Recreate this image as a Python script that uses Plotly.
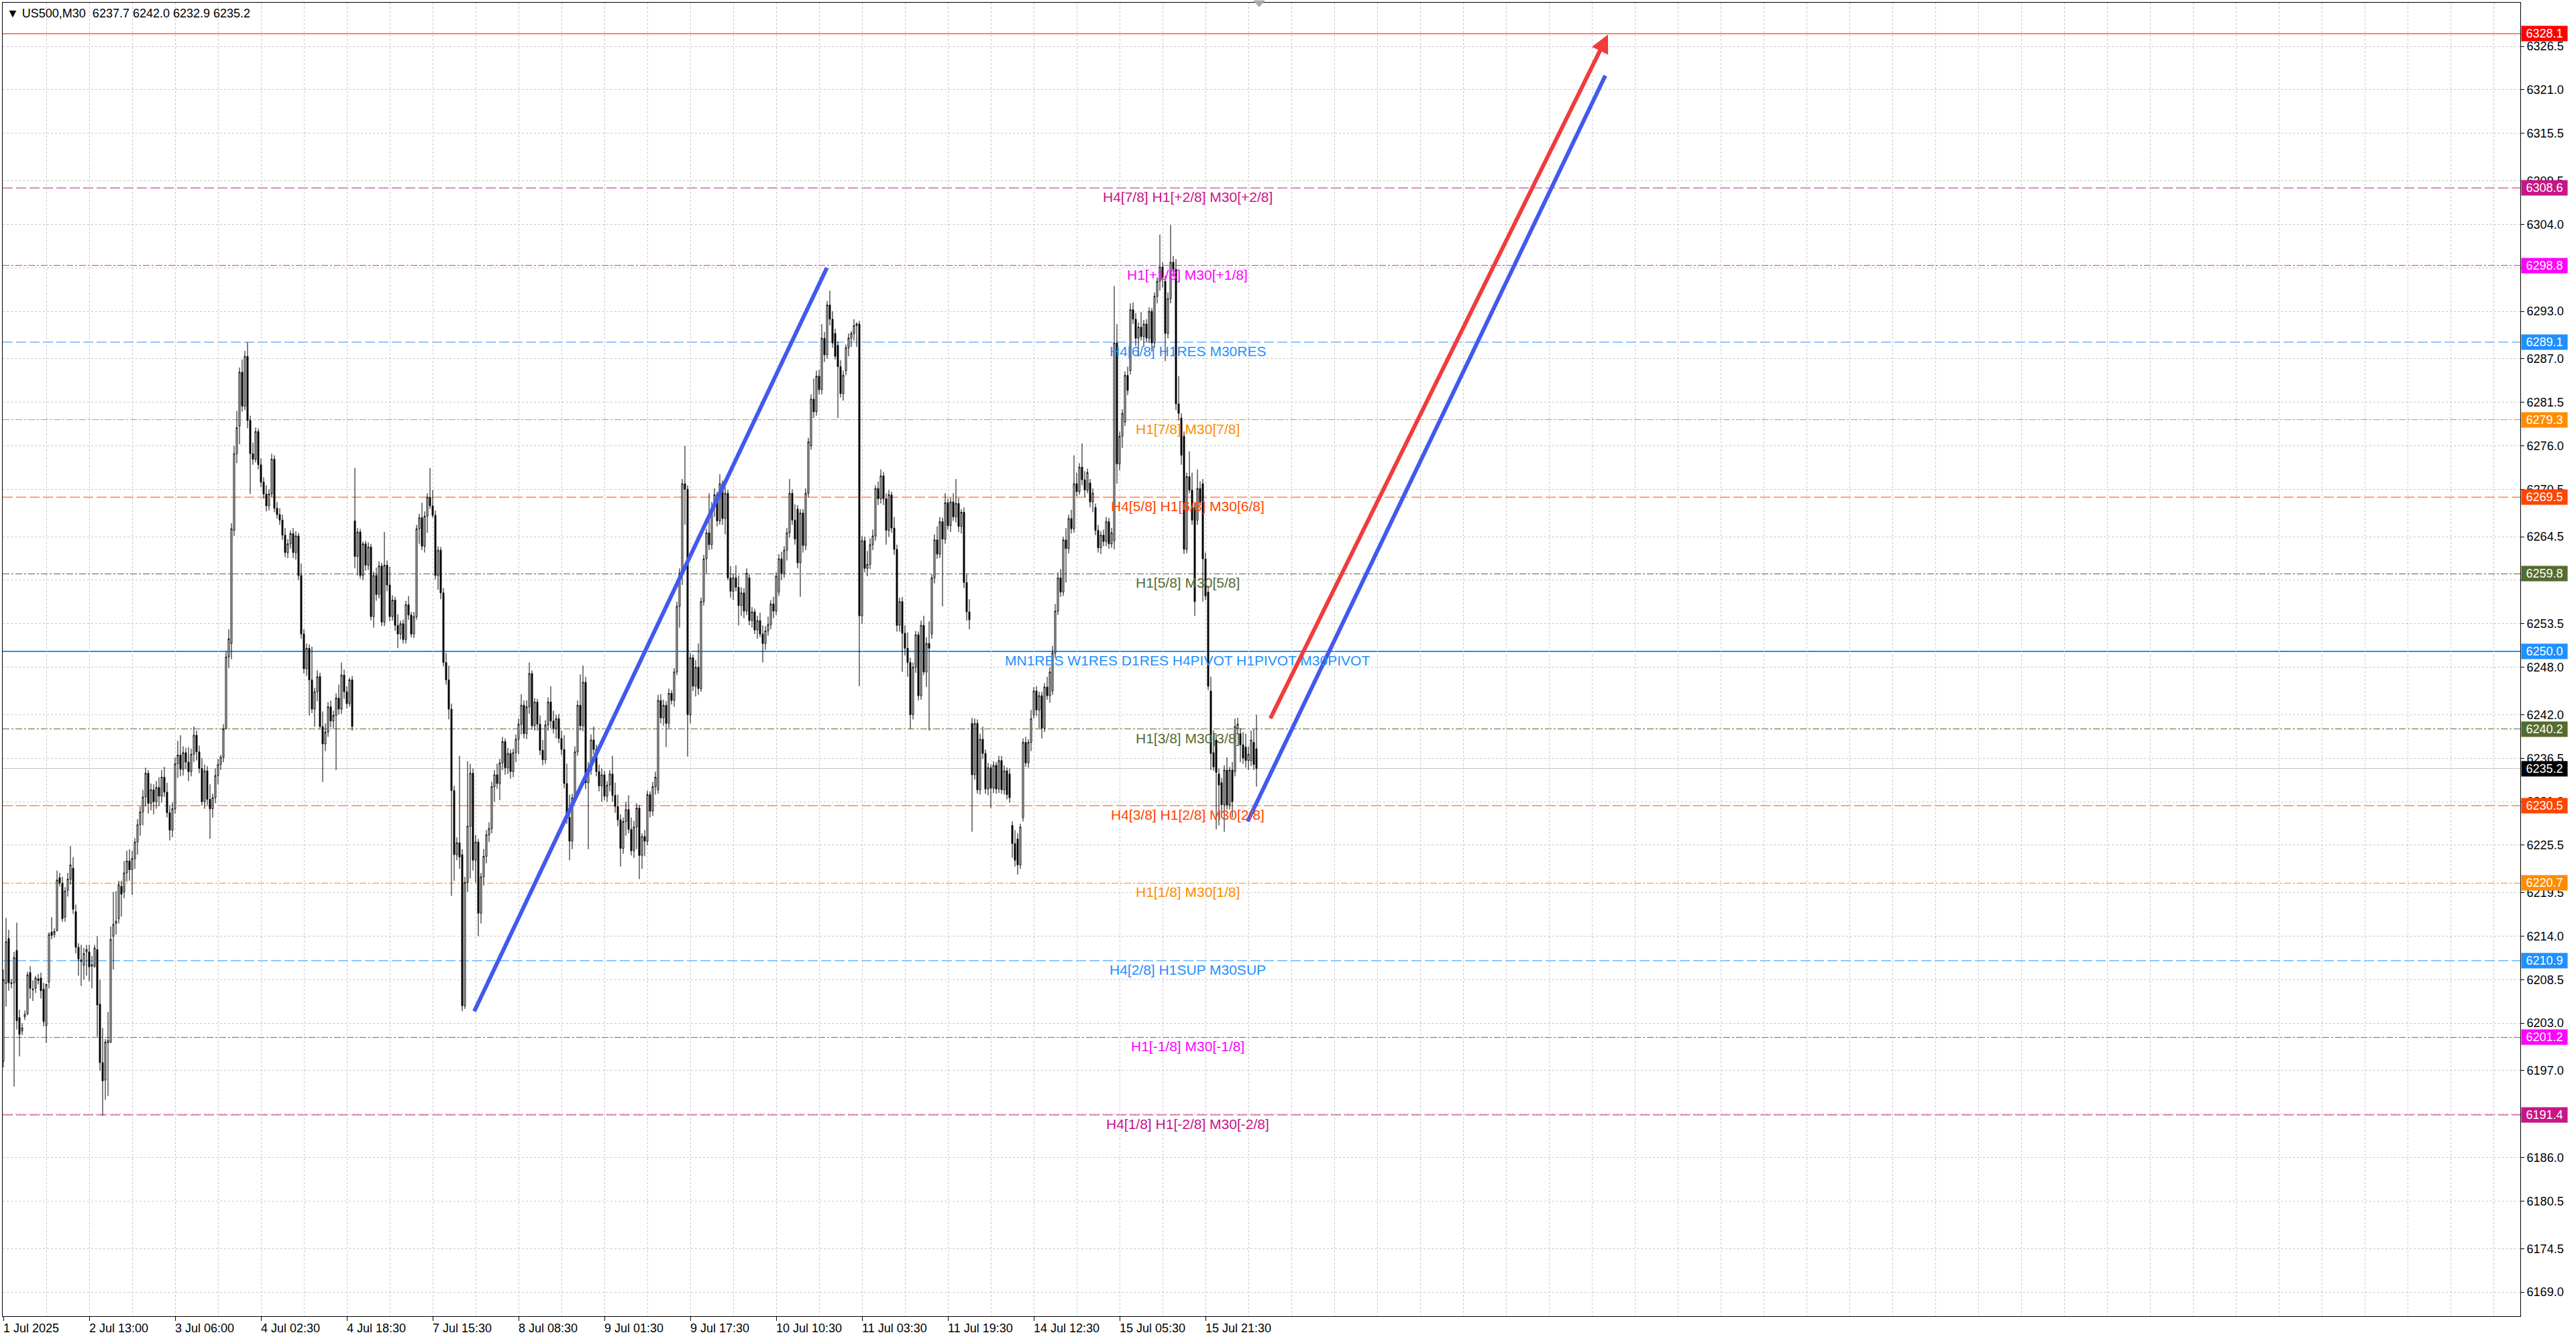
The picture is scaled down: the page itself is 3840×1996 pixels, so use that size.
import plotly.graph_objects as go

# ---------------- DATA ----------------
opens = [
    6198.2, 6208.0, 6213.7, 6208.1, 6208.1, 6212.2, 6203.7, 6202.0, 6203.8, 6204.2,
    6209.4, 6207.3, 6207.4, 6208.6, 6208.7, 6207.3, 6202.7, 6208.2, 6214.5, 6214.2,
    6214.7, 6221.4, 6220.7, 6216.4, 6219.8, 6221.2, 6222.6, 6217.1, 6212.6, 6211.0,
    6210.3, 6212.0, 6212.0, 6210.2, 6210.2, 6212.3, 6205.4, 6198.0, 6195.8, 6200.5,
    6200.6, 6214.0, 6215.6, 6216.2, 6220.3, 6219.6, 6222.0, 6223.5, 6222.4, 6223.8,
    6225.9, 6228.1, 6229.7, 6231.6, 6234.6, 6230.8, 6232.5, 6231.0, 6232.8, 6231.7,
    6234.1, 6232.2, 6229.6, 6227.4, 6230.1, 6235.8, 6236.9, 6235.1, 6237.2, 6236.0,
    6234.8, 6237.0, 6239.4, 6237.3, 6235.2, 6231.0, 6234.9, 6231.3, 6230.1, 6231.5,
    6234.3, 6235.7, 6236.6, 6240.2, 6249.3, 6251.0, 6265.3, 6275.0, 6278.5, 6285.3,
    6281.0, 6287.3, 6279.2, 6275.0, 6274.3, 6277.8, 6273.6, 6271.4, 6269.9, 6268.4,
    6269.9, 6274.3, 6268.1, 6267.3, 6266.6, 6264.7, 6262.5, 6263.6, 6264.9, 6262.5,
    6264.6, 6259.6, 6252.2, 6247.8, 6250.4, 6246.4, 6242.7, 6244.9, 6246.8, 6240.5,
    6238.3, 6239.8, 6243.0, 6241.2, 6241.9, 6244.1, 6242.7, 6247.0, 6244.9, 6243.4,
    6246.4, 6266.5, 6262.0, 6265.1, 6259.6, 6263.6, 6260.9, 6263.2, 6254.4, 6259.6,
    6257.2, 6260.8, 6253.7, 6260.9, 6258.4, 6254.4, 6256.5, 6253.3, 6252.2, 6253.5,
    6251.5, 6255.9, 6254.6, 6252.2, 6254.4, 6265.5, 6266.9, 6263.3, 6267.1, 6269.5,
    6268.4, 6267.2, 6259.6, 6262.8, 6257.4, 6248.6, 6246.4, 6242.7, 6232.4, 6224.3,
    6225.8, 6224.3, 6205.2, 6220.8, 6227.9, 6234.6, 6223.6, 6225.9, 6216.9, 6221.5,
    6224.1, 6226.8, 6227.6, 6232.9, 6234.4, 6233.3, 6235.9, 6238.6, 6235.3, 6237.1,
    6234.8, 6237.2, 6238.9, 6240.8, 6243.2, 6239.6, 6243.0, 6247.2, 6240.6, 6243.6,
    6240.8, 6237.5, 6236.3, 6240.7, 6243.6, 6241.2, 6240.3, 6241.5, 6239.0, 6237.6,
    6233.3, 6229.0, 6226.0, 6231.5, 6237.3, 6243.2, 6240.6, 6246.1, 6233.4, 6235.0,
    6238.8, 6237.6, 6234.8, 6233.0, 6234.4, 6231.7, 6233.1, 6234.5, 6231.8, 6230.4,
    6228.7, 6225.1, 6228.5, 6230.0, 6227.5, 6224.8, 6227.8, 6230.2, 6224.2, 6226.6,
    6226.0, 6231.9, 6229.8, 6232.9, 6232.5, 6243.8, 6241.6, 6243.2, 6240.9, 6244.7,
    6243.8, 6247.4, 6255.7, 6259.9, 6271.2, 6270.5, 6242.0, 6249.2, 6245.6, 6248.0,
    6245.3, 6256.3, 6261.7, 6265.0, 6263.5, 6268.2, 6269.8, 6266.5, 6271.2, 6266.8,
    6270.0, 6259.3, 6257.6, 6259.3, 6258.1, 6255.8, 6257.4, 6255.1, 6259.3, 6253.9,
    6255.0, 6252.7, 6253.9, 6252.2, 6251.0, 6252.6, 6253.4, 6256.0, 6255.1, 6257.5,
    6261.7, 6259.9, 6262.8, 6265.0, 6270.0, 6266.6, 6268.0, 6261.2, 6267.5, 6263.4,
    6270.0, 6276.0, 6281.9, 6280.3, 6284.8, 6283.1, 6289.6, 6287.5, 6293.8, 6292.0,
    6290.2, 6288.7, 6286.0, 6282.6, 6285.5, 6288.4, 6289.6, 6290.2, 6291.2, 6291.4,
    6254.5, 6264.0, 6260.5, 6261.0, 6263.5, 6264.6, 6270.6, 6269.3, 6272.2, 6269.3,
    6265.3, 6269.8, 6265.6, 6262.9, 6253.3, 6256.3, 6252.3, 6250.4, 6248.6, 6242.0,
    6248.0, 6252.1, 6244.4, 6253.3, 6247.4, 6251.0, 6252.2, 6259.3, 6264.1, 6262.3,
    6266.4, 6264.2, 6268.8, 6265.9, 6268.9, 6267.0, 6268.7, 6265.8, 6267.6, 6258.7,
    6255.0, 6240.9, 6234.4, 6240.9, 6232.5, 6238.9, 6237.1, 6232.6, 6235.3, 6232.7,
    6235.6, 6232.6, 6236.2, 6232.5, 6234.9, 6234.5, 6228.0, 6225.7, 6226.3, 6223.0,
    6229.0, 6238.5, 6235.9, 6238.5, 6242.0, 6245.0, 6242.6, 6244.4, 6240.3, 6245.5,
    6244.4, 6245.0, 6249.8, 6255.1, 6259.3, 6257.5, 6264.1, 6263.0, 6266.8, 6265.5,
    6271.2, 6270.2, 6273.3, 6271.7, 6270.4, 6271.3, 6268.9, 6268.2, 6265.3, 6263.1,
    6264.7, 6263.9, 6266.4, 6263.6, 6264.0, 6289.0, 6273.7, 6277.2, 6279.0, 6284.9,
    6285.5, 6293.2, 6292.0, 6289.6, 6291.0, 6289.8, 6291.4, 6289.6, 6293.0, 6289.0,
    6294.9, 6296.8, 6298.6, 6296.8, 6290.2, 6294.6, 6299.2, 6298.3, 6281.3, 6279.5,
    6277.2, 6262.9, 6272.1, 6270.4, 6268.2, 6266.6, 6270.6, 6271.2, 6261.7, 6257.5,
    6245.0, 6237.2, 6238.8, 6234.5, 6233.4, 6230.6, 6235.0, 6230.6, 6235.0, 6234.8,
    6240.2, 6239.6, 6238.2, 6237.9, 6236.2, 6236.2, 6238.5, 6237.7,
]
highs = [
    6209.8, 6216.3, 6214.8, 6208.6, 6212.0, 6215.7, 6204.7, 6203.0, 6204.6, 6209.5,
    6210.2, 6208.4, 6209.0, 6209.2, 6209.4, 6208.1, 6208.0, 6214.5, 6216.4, 6215.0,
    6222.3, 6222.0, 6221.5, 6220.2, 6222.0, 6225.4, 6224.0, 6218.0, 6213.1, 6212.9,
    6212.5, 6212.9, 6212.9, 6211.5, 6212.9, 6214.0, 6208.5, 6202.4, 6201.0, 6204.4,
    6215.2, 6219.6, 6219.7, 6221.0, 6221.0, 6223.5, 6224.8, 6225.0, 6224.8, 6226.4,
    6228.8, 6230.4, 6232.5, 6235.3, 6235.0, 6233.3, 6233.2, 6233.6, 6234.1, 6235.0,
    6235.4, 6233.4, 6230.4, 6230.9, 6236.6, 6238.7, 6239.4, 6238.0, 6237.8, 6237.9,
    6237.7, 6240.5, 6240.0, 6238.1, 6236.5, 6235.7, 6235.5, 6233.2, 6232.0, 6235.2,
    6236.4, 6236.9, 6240.8, 6250.0, 6252.8, 6266.2, 6276.0, 6280.4, 6285.9, 6286.9,
    6288.0, 6289.1, 6279.8, 6276.4, 6278.3, 6278.2, 6274.4, 6272.0, 6271.0, 6270.5,
    6275.0, 6274.8, 6268.9, 6268.1, 6267.3, 6265.6, 6264.2, 6265.3, 6265.6, 6265.2,
    6265.0, 6261.1, 6252.8, 6251.0, 6250.9, 6250.6, 6245.4, 6247.6, 6247.3, 6242.4,
    6240.9, 6243.6, 6243.8, 6242.5, 6244.7, 6245.8, 6248.6, 6247.7, 6245.6, 6246.7,
    6246.9, 6273.2, 6265.6, 6265.5, 6263.9, 6264.0, 6263.8, 6263.6, 6260.1, 6260.6,
    6261.4, 6261.2, 6265.1, 6261.5, 6260.7, 6257.1, 6256.9, 6254.7, 6253.9, 6254.0,
    6256.4, 6257.0, 6255.0, 6255.0, 6266.0, 6267.4, 6268.8, 6267.7, 6270.0, 6273.2,
    6270.4, 6267.8, 6263.3, 6263.2, 6258.0, 6249.8, 6248.2, 6243.4, 6233.0, 6226.5,
    6236.8, 6225.0, 6221.5, 6236.1, 6235.8, 6235.2, 6226.8, 6226.3, 6222.0, 6225.0,
    6227.4, 6228.4, 6233.5, 6235.0, 6235.8, 6236.4, 6239.2, 6239.0, 6237.8, 6237.6,
    6237.7, 6239.5, 6241.5, 6244.6, 6243.8, 6243.8, 6248.6, 6247.6, 6244.1, 6244.0,
    6241.9, 6238.8, 6241.3, 6244.2, 6245.6, 6242.5, 6242.0, 6242.1, 6240.0, 6239.4,
    6235.8, 6231.9, 6232.0, 6238.0, 6243.8, 6247.1, 6248.2, 6246.8, 6236.0, 6239.5,
    6240.5, 6238.2, 6235.7, 6235.2, 6234.9, 6233.6, 6235.0, 6236.8, 6233.4, 6231.9,
    6229.4, 6229.0, 6231.0, 6231.8, 6229.0, 6228.6, 6230.8, 6230.6, 6227.0, 6227.4,
    6232.4, 6232.3, 6233.5, 6234.8, 6244.5, 6244.6, 6243.9, 6243.7, 6245.3, 6245.1,
    6247.9, 6256.3, 6260.5, 6271.8, 6276.0, 6271.0, 6249.8, 6249.6, 6248.9, 6251.0,
    6256.8, 6262.2, 6265.5, 6270.0, 6268.9, 6270.6, 6270.2, 6272.4, 6271.6, 6270.8,
    6270.4, 6260.8, 6259.8, 6260.9, 6259.6, 6258.1, 6258.0, 6260.5, 6259.8, 6255.6,
    6255.4, 6254.5, 6254.9, 6253.3, 6253.2, 6254.4, 6256.5, 6256.9, 6260.0, 6262.3,
    6262.6, 6263.3, 6265.6, 6271.8, 6270.5, 6268.6, 6268.5, 6268.0, 6268.0, 6270.6,
    6277.0, 6282.5, 6284.5, 6285.5, 6285.6, 6291.4, 6290.4, 6294.3, 6295.6, 6293.0,
    6290.8, 6289.2, 6286.8, 6285.5, 6288.8, 6290.2, 6290.5, 6292.0, 6291.6, 6291.8,
    6264.6, 6264.5, 6262.7, 6264.3, 6265.4, 6271.0, 6271.5, 6273.0, 6272.7, 6270.0,
    6270.4, 6270.2, 6267.0, 6263.5, 6256.8, 6256.9, 6253.3, 6252.4, 6249.2, 6248.6,
    6252.6, 6252.5, 6253.9, 6254.5, 6251.8, 6253.8, 6259.8, 6264.8, 6265.8, 6267.0,
    6266.9, 6270.0, 6269.3, 6269.4, 6270.0, 6271.8, 6269.4, 6268.0, 6268.2, 6259.9,
    6256.6, 6241.6, 6241.5, 6241.4, 6239.6, 6240.5, 6237.6, 6235.9, 6235.7, 6236.1,
    6236.0, 6236.8, 6236.8, 6235.6, 6235.3, 6235.2, 6228.5, 6227.4, 6227.0, 6228.2,
    6239.0, 6239.2, 6238.9, 6242.6, 6245.5, 6245.6, 6244.9, 6244.9, 6246.0, 6246.8,
    6248.0, 6250.7, 6256.0, 6260.0, 6260.4, 6264.5, 6265.6, 6267.3, 6267.9, 6274.8,
    6272.6, 6273.8, 6276.3, 6272.8, 6273.1, 6271.8, 6270.6, 6268.7, 6266.0, 6265.2,
    6265.4, 6267.0, 6266.9, 6265.6, 6296.2, 6291.4, 6277.8, 6280.6, 6285.4, 6286.0,
    6294.0, 6294.1, 6292.8, 6291.6, 6292.9, 6291.9, 6292.0, 6293.5, 6293.4, 6295.4,
    6297.3, 6302.7, 6299.2, 6297.5, 6295.4, 6303.9, 6300.0, 6299.6, 6284.8, 6280.1,
    6277.8, 6272.6, 6275.3, 6272.6, 6268.8, 6273.0, 6271.5, 6271.8, 6262.5, 6258.3,
    6246.8, 6240.0, 6239.5, 6235.2, 6234.0, 6235.6, 6236.6, 6235.4, 6236.0, 6241.5,
    6241.6, 6240.3, 6239.8, 6239.6, 6238.0, 6240.0, 6240.2, 6242.0,
]
lows = [
    6197.4, 6205.1, 6207.1, 6207.4, 6195.0, 6202.2, 6198.8, 6201.5, 6203.4, 6204.0,
    6206.1, 6205.8, 6206.8, 6207.9, 6206.1, 6202.6, 6200.5, 6207.4, 6213.6, 6213.8,
    6214.6, 6220.3, 6215.8, 6215.8, 6219.0, 6220.5, 6216.8, 6211.8, 6209.0, 6207.7,
    6208.5, 6209.0, 6208.3, 6207.4, 6210.0, 6201.3, 6197.0, 6191.3, 6193.3, 6193.8,
    6200.5, 6209.8, 6214.2, 6215.6, 6216.5, 6218.8, 6220.9, 6221.0, 6219.2, 6222.5,
    6224.3, 6226.7, 6228.0, 6230.4, 6229.5, 6229.9, 6229.4, 6230.1, 6230.5, 6230.9,
    6231.6, 6229.0, 6226.1, 6226.5, 6229.5, 6234.0, 6234.2, 6234.3, 6235.1, 6233.6,
    6234.2, 6236.0, 6236.2, 6234.6, 6230.5, 6230.1, 6230.6, 6226.3, 6229.0, 6230.8,
    6233.2, 6235.0, 6236.0, 6240.2, 6247.9, 6249.0, 6264.6, 6273.8, 6276.2, 6280.3,
    6280.5, 6278.2, 6269.9, 6273.6, 6273.9, 6273.0, 6270.8, 6269.3, 6267.7, 6267.8,
    6269.5, 6267.6, 6266.8, 6266.0, 6264.1, 6261.9, 6261.8, 6263.0, 6261.8, 6261.6,
    6259.0, 6251.6, 6247.2, 6246.9, 6241.9, 6242.2, 6240.5, 6243.7, 6240.1, 6233.5,
    6237.4, 6239.2, 6240.4, 6240.2, 6235.0, 6242.0, 6242.1, 6244.0, 6242.8, 6243.0,
    6240.0, 6260.5, 6259.6, 6259.2, 6259.0, 6260.2, 6260.3, 6253.9, 6253.0, 6256.4,
    6256.7, 6253.2, 6253.2, 6257.6, 6253.8, 6253.9, 6252.6, 6250.4, 6251.5, 6251.0,
    6251.0, 6254.0, 6251.8, 6251.7, 6254.0, 6263.6, 6262.8, 6262.5, 6265.0, 6268.0,
    6266.9, 6259.1, 6257.8, 6256.6, 6248.1, 6245.8, 6241.4, 6219.1, 6221.0, 6223.6,
    6222.5, 6204.5, 6204.8, 6219.6, 6221.3, 6222.3, 6220.8, 6214.0, 6215.6, 6220.4,
    6223.2, 6225.9, 6227.0, 6231.0, 6232.6, 6231.2, 6235.0, 6234.4, 6234.5, 6233.9,
    6234.1, 6236.0, 6237.0, 6239.5, 6239.0, 6238.9, 6242.1, 6240.1, 6240.0, 6240.0,
    6236.9, 6235.6, 6235.8, 6240.0, 6240.3, 6239.6, 6239.0, 6238.4, 6236.9, 6232.7,
    6228.2, 6223.6, 6225.0, 6230.9, 6236.8, 6240.0, 6239.9, 6232.6, 6225.0, 6234.4,
    6237.0, 6234.2, 6232.3, 6231.0, 6231.2, 6231.0, 6232.3, 6231.0, 6229.6, 6227.9,
    6222.8, 6224.4, 6226.7, 6227.0, 6224.2, 6223.9, 6225.0, 6221.2, 6222.5, 6224.1,
    6225.5, 6229.0, 6229.2, 6231.9, 6232.0, 6240.9, 6240.6, 6237.9, 6240.3, 6243.3,
    6243.0, 6247.0, 6253.0, 6258.4, 6266.0, 6236.7, 6240.9, 6245.0, 6244.3, 6244.5,
    6244.9, 6255.8, 6259.9, 6262.8, 6262.9, 6267.0, 6265.8, 6266.0, 6266.0, 6264.8,
    6259.0, 6256.8, 6256.5, 6257.6, 6253.3, 6254.5, 6254.2, 6254.6, 6253.3, 6253.0,
    6252.2, 6251.6, 6251.8, 6248.6, 6250.2, 6252.0, 6252.8, 6254.2, 6254.6, 6257.0,
    6259.0, 6259.3, 6261.5, 6264.4, 6266.0, 6263.5, 6260.5, 6256.9, 6262.5, 6262.8,
    6269.5, 6275.5, 6279.5, 6279.8, 6282.5, 6282.5, 6286.6, 6287.0, 6291.2, 6288.4,
    6286.9, 6279.5, 6282.1, 6281.7, 6284.9, 6287.3, 6288.5, 6289.3, 6288.5, 6245.6,
    6253.5, 6260.0, 6259.5, 6260.4, 6262.8, 6264.0, 6268.5, 6268.7, 6268.5, 6263.5,
    6264.5, 6265.0, 6262.2, 6252.5, 6252.5, 6247.4, 6249.5, 6246.8, 6240.2, 6241.4,
    6247.3, 6243.8, 6243.9, 6247.0, 6245.5, 6240.0, 6251.6, 6258.6, 6261.7, 6261.8,
    6255.7, 6263.6, 6265.4, 6265.1, 6266.5, 6266.3, 6265.1, 6264.9, 6258.0, 6253.9,
    6252.8, 6227.2, 6233.8, 6232.0, 6231.9, 6236.4, 6232.0, 6231.8, 6230.2, 6232.1,
    6232.0, 6232.1, 6232.0, 6231.9, 6231.3, 6230.9, 6223.9, 6222.8, 6221.8, 6222.5,
    6228.5, 6235.4, 6235.3, 6237.4, 6241.5, 6241.8, 6240.3, 6239.0, 6239.8, 6243.9,
    6243.5, 6244.5, 6249.2, 6254.6, 6256.9, 6257.0, 6258.7, 6262.4, 6264.9, 6265.0,
    6269.6, 6269.8, 6271.0, 6269.5, 6270.0, 6268.2, 6267.6, 6264.7, 6262.5, 6262.3,
    6263.3, 6263.3, 6263.0, 6263.1, 6262.9, 6271.2, 6272.9, 6275.7, 6278.5, 6282.4,
    6285.0, 6291.4, 6288.6, 6287.3, 6289.3, 6288.5, 6289.1, 6289.0, 6287.9, 6288.4,
    6294.0, 6295.6, 6296.0, 6286.7, 6289.6, 6294.0, 6297.3, 6280.5, 6279.2, 6273.6,
    6262.3, 6262.4, 6270.0, 6266.0, 6254.5, 6266.0, 6268.4, 6256.3, 6256.5, 6245.1,
    6235.0, 6234.9, 6227.5, 6228.0, 6229.0, 6227.2, 6230.0, 6230.0, 6229.0, 6234.2,
    6239.5, 6236.0, 6235.8, 6235.3, 6235.0, 6235.5, 6235.0, 6232.9,
]
closes = [
    6208.5, 6213.3, 6208.1, 6208.0, 6211.3, 6203.3, 6201.6, 6202.4, 6204.1, 6209.1,
    6207.4, 6207.2, 6208.7, 6208.4, 6207.1, 6203.2, 6207.9, 6214.2, 6214.1, 6214.6,
    6221.1, 6220.7, 6216.2, 6219.7, 6221.2, 6223.0, 6217.4, 6212.6, 6211.1, 6210.8,
    6211.8, 6212.3, 6210.1, 6210.4, 6212.5, 6205.3, 6198.0, 6195.7, 6200.6, 6200.8,
    6213.6, 6215.5, 6215.9, 6220.5, 6219.3, 6222.0, 6223.5, 6222.4, 6223.8, 6225.9,
    6228.1, 6229.7, 6231.6, 6234.6, 6230.8, 6232.5, 6231.0, 6232.8, 6231.7, 6234.1,
    6232.2, 6229.6, 6227.4, 6230.1, 6235.8, 6236.9, 6235.1, 6237.2, 6236.0, 6234.8,
    6237.0, 6239.4, 6237.3, 6235.2, 6231.0, 6234.9, 6231.3, 6230.1, 6231.5, 6234.3,
    6235.7, 6236.6, 6240.2, 6249.3, 6251.6, 6265.5, 6275.0, 6278.3, 6285.3, 6281.0,
    6287.3, 6279.2, 6275.0, 6274.3, 6277.8, 6273.6, 6271.4, 6269.9, 6268.4, 6269.9,
    6274.3, 6268.1, 6267.3, 6266.6, 6264.7, 6262.5, 6263.6, 6264.9, 6262.5, 6264.6,
    6259.6, 6252.2, 6247.8, 6250.4, 6246.4, 6242.7, 6244.9, 6246.8, 6240.5, 6238.3,
    6239.8, 6243.0, 6241.2, 6241.9, 6244.1, 6242.7, 6247.0, 6244.9, 6243.4, 6246.4,
    6240.5, 6262.0, 6265.1, 6259.6, 6263.6, 6260.9, 6263.2, 6254.4, 6259.6, 6257.2,
    6260.8, 6253.7, 6260.9, 6258.4, 6254.4, 6256.5, 6253.3, 6252.2, 6253.5, 6251.5,
    6255.9, 6254.6, 6252.2, 6254.4, 6265.5, 6266.9, 6263.3, 6267.1, 6269.5, 6268.4,
    6267.2, 6259.6, 6262.8, 6257.4, 6248.6, 6246.4, 6242.7, 6232.4, 6224.3, 6225.8,
    6224.0, 6205.2, 6220.8, 6227.9, 6234.6, 6223.6, 6225.9, 6216.9, 6221.5, 6224.1,
    6226.8, 6227.6, 6232.9, 6234.4, 6233.3, 6235.9, 6238.6, 6235.3, 6237.1, 6234.8,
    6237.2, 6238.9, 6240.8, 6243.2, 6239.6, 6243.0, 6247.2, 6240.6, 6243.6, 6240.8,
    6237.5, 6236.3, 6240.7, 6243.6, 6241.2, 6240.3, 6241.5, 6239.0, 6237.6, 6233.3,
    6229.0, 6226.0, 6231.5, 6237.3, 6243.2, 6240.6, 6246.1, 6233.4, 6235.0, 6238.8,
    6237.6, 6234.8, 6233.0, 6234.4, 6231.7, 6233.1, 6234.5, 6231.8, 6230.4, 6228.7,
    6225.1, 6228.5, 6230.0, 6227.5, 6224.8, 6227.8, 6230.2, 6224.2, 6226.6, 6226.0,
    6231.9, 6229.8, 6232.9, 6234.1, 6243.8, 6241.6, 6243.2, 6240.9, 6244.7, 6243.8,
    6247.4, 6255.7, 6259.9, 6271.2, 6270.5, 6242.0, 6249.2, 6245.6, 6248.0, 6245.3,
    6256.3, 6261.7, 6265.0, 6263.5, 6268.2, 6269.8, 6266.5, 6271.2, 6266.8, 6270.0,
    6259.3, 6257.6, 6259.3, 6258.1, 6255.8, 6257.4, 6255.1, 6259.9, 6253.9, 6255.0,
    6252.7, 6253.9, 6252.2, 6251.0, 6252.6, 6253.4, 6256.0, 6255.1, 6259.5, 6261.7,
    6259.9, 6262.8, 6265.0, 6270.0, 6266.6, 6264.2, 6261.2, 6267.5, 6263.4, 6270.0,
    6276.5, 6281.9, 6280.3, 6284.8, 6283.1, 6289.6, 6287.5, 6293.8, 6292.0, 6289.0,
    6287.3, 6286.0, 6282.6, 6284.9, 6288.4, 6289.6, 6290.2, 6291.2, 6291.4, 6254.5,
    6264.0, 6260.5, 6261.0, 6263.5, 6264.6, 6270.6, 6269.3, 6272.2, 6269.3, 6265.3,
    6269.8, 6265.6, 6262.9, 6253.3, 6256.3, 6252.3, 6250.4, 6248.6, 6242.0, 6248.0,
    6252.1, 6244.4, 6253.3, 6247.4, 6251.0, 6250.4, 6259.3, 6264.1, 6262.3, 6266.4,
    6264.2, 6268.8, 6265.9, 6268.9, 6267.0, 6268.7, 6265.8, 6267.6, 6258.7, 6255.0,
    6254.0, 6234.4, 6240.9, 6232.5, 6238.9, 6237.1, 6232.6, 6235.3, 6232.7, 6235.6,
    6232.6, 6236.2, 6232.5, 6234.9, 6231.9, 6231.5, 6225.7, 6223.6, 6223.0, 6227.8,
    6238.5, 6235.9, 6238.5, 6241.5, 6245.0, 6242.6, 6244.4, 6240.3, 6245.5, 6244.4,
    6247.4, 6249.8, 6255.1, 6259.3, 6257.5, 6264.1, 6263.0, 6266.8, 6265.5, 6271.2,
    6270.2, 6273.3, 6271.7, 6270.4, 6272.6, 6268.9, 6270.0, 6265.3, 6263.1, 6264.7,
    6263.9, 6266.4, 6263.6, 6265.0, 6289.0, 6273.7, 6277.2, 6280.1, 6284.9, 6283.0,
    6293.2, 6292.0, 6289.6, 6291.0, 6289.8, 6291.4, 6289.6, 6293.0, 6289.0, 6294.9,
    6296.8, 6298.6, 6297.3, 6290.2, 6294.6, 6299.2, 6298.3, 6281.3, 6280.1, 6274.8,
    6262.9, 6272.1, 6270.4, 6266.6, 6256.3, 6270.6, 6268.9, 6261.7, 6257.0, 6245.6,
    6237.1, 6235.4, 6234.7, 6233.1, 6230.6, 6235.0, 6230.6, 6235.0, 6231.0, 6240.5,
    6240.8, 6238.2, 6236.5, 6236.2, 6237.0, 6238.8, 6235.7, 6235.2,
]

time_labels = ["1 Jul 2025", "2 Jul 13:00", "3 Jul 06:00", "4 Jul 02:30", "4 Jul 18:30",
               "7 Jul 15:30", "8 Jul 08:30", "9 Jul 01:30", "9 Jul 17:30", "10 Jul 10:30",
               "11 Jul 03:30", "11 Jul 19:30", "14 Jul 12:30", "15 Jul 05:30", "15 Jul 21:30"]
time_label_bars = [0, 32, 64, 96, 128, 160, 192, 224, 256, 288, 320, 352, 384, 416, 448]

price_ticks = [6169.0, 6174.5, 6180.5, 6186.0, 6191.5, 6197.0, 6203.0, 6208.5, 6214.0, 6219.5,
               6225.5, 6231.0, 6236.5, 6242.0, 6248.0, 6253.5, 6259.0, 6264.5, 6270.5, 6276.0,
               6281.5, 6287.0, 6293.0, 6298.5, 6304.0, 6309.5, 6315.5, 6321.0, 6326.5]
# tick values whose labels are fully covered by price tags in the original
hidden_tick_labels = [6259.0, 6298.5]

level_prices = [6328.1, 6308.6, 6298.8, 6289.1, 6279.3, 6269.5, 6259.8, 6250.0, 6240.2,
                6235.2, 6230.5, 6220.7, 6210.9, 6201.2, 6191.4]
level_texts = ["", "H4[7/8] H1[+2/8] M30[+2/8]", "H1[+1/8] M30[+1/8]", "H4[6/8] H1RES M30RES",
               "H1[7/8] M30[7/8]", "H4[5/8] H1[6/8] M30[6/8]", "H1[5/8] M30[5/8]",
               "MN1RES W1RES D1RES H4PIVOT H1PIVOT M30PIVOT", "H1[3/8] M30[3/8]", "",
               "H4[3/8] H1[2/8] M30[2/8]", "H1[1/8] M30[1/8]", "H4[2/8] H1SUP M30SUP",
               "H1[-1/8] M30[-1/8]", "H4[1/8] H1[-2/8] M30[-2/8]"]

title_text = "US500,M30\u00a0\u00a06237.7 6242.0 6232.9 6235.2"

# trend lines (bar index, price)
blue1_x = [175.5, 306.9]
blue1_y = [6204.5, 6298.5]
blue2_x = [463.7, 597.0]
blue2_y = [6228.5, 6322.8]
red_x = [472.0, 598.0]
red_y = [6241.4, 6328.0]
shift_marker_bar = 468

# ---------------- STYLE ----------------
level_colors = ["#FF0000", "#C71585", "#FF00FF", "#1E90FF", "#FF8C00", "#FF4500", "#556B2F",
                "#1E90FF", "#556B2F", "#000000", "#FF4500", "#FF8C00", "#1E90FF", "#FF00FF", "#C71585"]
level_line_colors = list(level_colors)
level_line_colors[9] = "#C0C0C0"
DASH = "15px,5px"
DASHDOT = "10px,3px,3px,3px"
level_dashes = ["solid", DASH, DASHDOT, DASH, DASHDOT, DASH, DASHDOT, "solid", DASHDOT,
                "solid", DASH, DASHDOT, DASH, DASHDOT, DASH]
level_widths = [1, 1, 1, 1, 1, 1, 1, 2, 1, 1, 1, 1, 1, 1, 1]

FONT = "Liberation Sans, Arial, sans-serif"
GRID = "#C8C8C8"

assert len(opens) == len(highs) == len(lows) == len(closes)
bars = list(range(len(closes)))

fig = go.Figure()
fig.add_trace(go.Candlestick(
    x=bars, open=opens, high=highs, low=lows, close=closes,
    increasing=dict(line=dict(color="black", width=1), fillcolor="white"),
    decreasing=dict(line=dict(color="black", width=1), fillcolor="black"),
    whiskerwidth=0, showlegend=False, hoverinfo="skip",
))

for xs, ys, col in [(blue1_x, blue1_y, "#4259EE"), (blue2_x, blue2_y, "#4259EE")]:
    fig.add_trace(go.Scatter(x=xs, y=ys, mode="lines", line=dict(color=col, width=6),
                             showlegend=False, hoverinfo="skip"))

shapes = []
annotations = []
for p, t, c, lc, d, w in zip(level_prices, level_texts, level_colors, level_line_colors,
                              level_dashes, level_widths):
    shapes.append(dict(type="line", xref="paper", x0=0, x1=1, yref="y", y0=p, y1=p,
                       line=dict(color=lc, width=w, dash=d), layer="below"))
    annotations.append(dict(xref="paper", x=1, xanchor="left", xshift=1, yref="y", y=p,
                            yanchor="middle", text=f"{p:.1f}", showarrow=False,
                            bgcolor=c, width=68, height=22, borderpad=0,
                            font=dict(family=FONT, size=18, color="white")))
    if t:
        annotations.append(dict(xref="x", x=441.25, xanchor="center", yref="y", y=p,
                                yanchor="top", text=t, showarrow=False,
                                font=dict(family=FONT, size=21, color=c)))

# chart-shift marker (small grey triangle at the top edge)
shapes.append(dict(type="path", xref="x", xsizemode="pixel", xanchor=shift_marker_bar,
                   yref="paper", ysizemode="pixel", yanchor=1,
                   path="M -8,3 L 8,3 L 0,-6 Z", fillcolor="#A8A8A8",
                   line=dict(color="#A8A8A8", width=1), layer="above"))

# red arrow
annotations.append(dict(xref="x", yref="y", x=red_x[1], y=red_y[1], axref="x", ayref="y",
                        ax=red_x[0], ay=red_y[0], text="", showarrow=True, arrowhead=2,
                        arrowsize=0.9, arrowwidth=6, arrowcolor="#F03C3C"))

for lbl, b in zip(time_labels, time_label_bars):
    annotations.append(dict(xref="x", x=b, xanchor="left", xshift=-2, yref="paper", y=0,
                            yanchor="top", yshift=-6, text=lbl, showarrow=False,
                            font=dict(family=FONT, size=18, color="black")))

annotations.append(dict(xref="paper", x=0, xanchor="left", xshift=4, yref="paper", y=1,
                        yanchor="top", yshift=-4, text="\u25BC " + title_text, showarrow=False,
                        font=dict(family=FONT, size=18, color="black")))

fig.update_layout(
    width=3840, height=1996,
    margin=dict(l=4, r=83, t=4, b=34),
    paper_bgcolor="white", plot_bgcolor="white",
    shapes=shapes, annotations=annotations,
    showlegend=False,
    xaxis=dict(range=[-0.25, 938], rangeslider=dict(visible=False),
               tickvals=time_label_bars, showticklabels=False, ticks="outside", ticklen=6,
               tickcolor="black", showgrid=True, gridcolor=GRID, griddash="3px,3px",
               minor=dict(dtick=16, tick0=0, showgrid=True, gridcolor=GRID, griddash="3px,3px", ticks=""),
               showline=True, linecolor="black", linewidth=1, mirror=True, zeroline=False),
    yaxis=dict(range=[6165.95, 6332.02], side="right", tickvals=price_ticks,
               ticktext=["" if v in hidden_tick_labels else f"{v:.1f}" for v in price_ticks],
               ticks="outside", ticklen=5,
               tickcolor="black", tickfont=dict(family=FONT, size=18, color="black"),
               showgrid=True, gridcolor=GRID, griddash="3px,3px",
               showline=True, linecolor="black", linewidth=1, mirror=True, zeroline=False),
)

fig.write_html("out.html", config={"displayModeBar": False},
               post_script="document.body.style.margin='0';document.body.style.overflow='hidden';")
